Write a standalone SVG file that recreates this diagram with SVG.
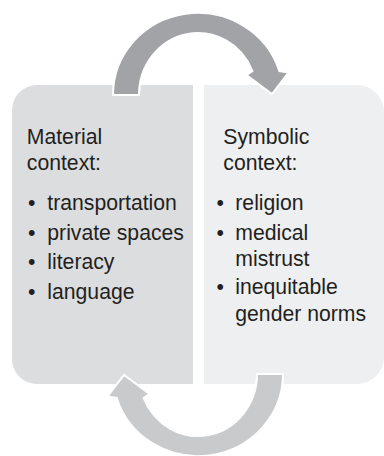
<svg xmlns="http://www.w3.org/2000/svg" width="384" height="456" viewBox="0 0 384 456">
  <style>
    .label { font-family: "Liberation Sans", Arial, sans-serif; font-size: 21.2px; fill: #231f20; }
    .arrow { stroke: #ffffff; stroke-width: 2; stroke-linejoin: miter; }
  </style>
  <defs>
    <!-- curved block arrow: tail at the left, head pointing down on the right -->
    <path id="cycleArrow" d="M113,95 A85,82 0 0 1 279.3,71 L288.5,72.5 L272,94 L246.5,75 L252.4,71 A59,62 0 0 0 139,95 Z"/>
  </defs>

  <g id="material">
    <path d="M37,85 H193 V384 H37 A25,25 0 0 1 12,359 V110 A25,25 0 0 1 37,85 Z" fill="#dcdddf"/>
    <text class="label" x="26.8" y="143.5">Material</text>
    <text class="label" x="26.8" y="169.5">context:</text>
    <text class="label" x="28" y="210">•</text>
    <text class="label" x="47.3" y="210">transportation</text>
    <text class="label" x="28" y="239.5">•</text>
    <text class="label" x="47.3" y="239.5">private spaces</text>
    <text class="label" x="28" y="269">•</text>
    <text class="label" x="47.3" y="269">literacy</text>
    <text class="label" x="28" y="298.5">•</text>
    <text class="label" x="47.3" y="298.5">language</text>
  </g>

  <g id="symbolic">
    <path d="M204,85 H357 A27,27 0 0 1 384,112 V357 A27,27 0 0 1 357,384 H204 Z" fill="#eeeff0"/>
    <text class="label" x="223.3" y="143.5">Symbolic</text>
    <text class="label" x="223.3" y="169.5">context:</text>
    <text class="label" x="216.5" y="210">•</text>
    <text class="label" x="235.3" y="210">religion</text>
    <text class="label" x="216.5" y="239.5">•</text>
    <text class="label" x="235.3" y="239.5">medical</text>
    <text class="label" x="235.3" y="265.5">mistrust</text>
    <text class="label" x="216.5" y="294">•</text>
    <text class="label" x="235.3" y="294">inequitable</text>
    <text class="label" x="235.3" y="320.5">gender norms</text>
  </g>

  <g id="connectors">
    <use href="#cycleArrow" class="arrow" fill="#a2a3a6"/>
    <use href="#cycleArrow" class="arrow" fill="#c9cacc" transform="rotate(180 198 234.5)"/>
  </g>
</svg>
